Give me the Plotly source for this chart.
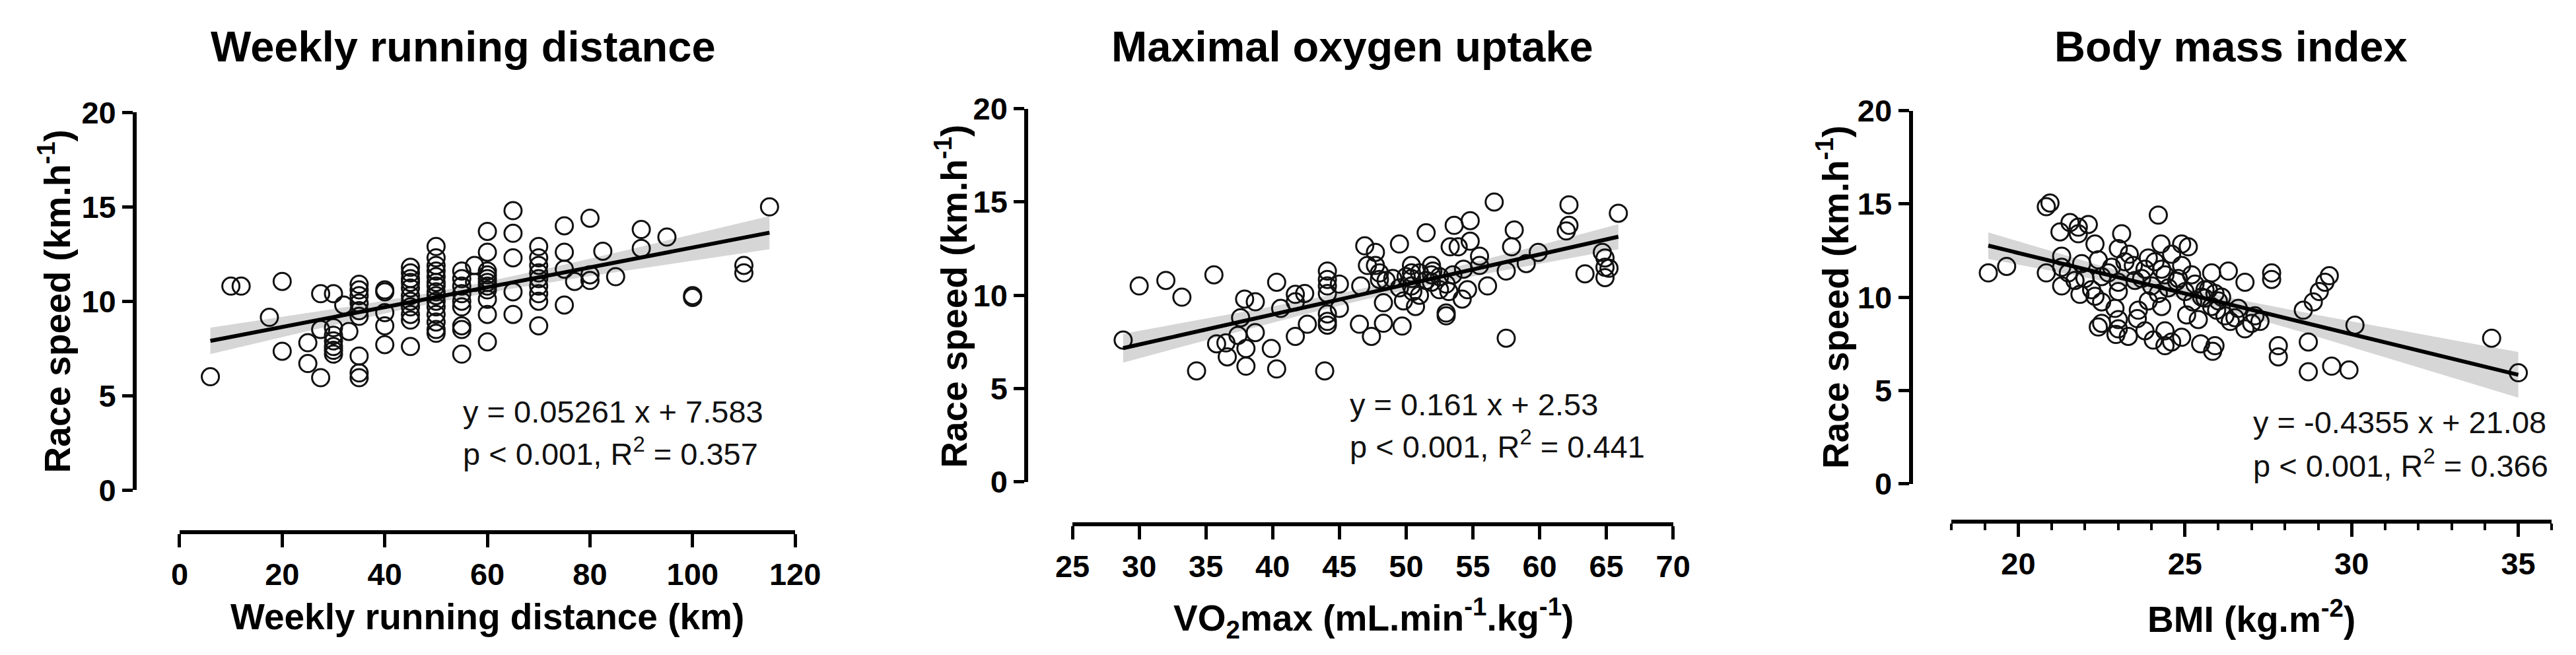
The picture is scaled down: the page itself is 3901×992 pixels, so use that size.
import numpy as np
import plotly.graph_objects as go

# ---- values ----
# panel 1: weekly running distance (km) vs race speed (km/h)
weekly_km = [
    6, 10, 12, 17.5, 20, 20,
    25, 25, 27.5, 27.5, 27.5,
    30, 30, 30, 30, 30, 30, 30,
    32, 33,
    35, 35, 35, 35, 35, 35, 35, 35, 35,
    40, 40, 40, 40, 40,
    45, 45, 45, 45, 45, 45, 45, 45, 45, 45, 45,
    50, 50, 50, 50, 50, 50, 50, 50, 50, 50, 50, 50, 50, 50, 50,
    55, 55, 55, 55, 55, 55, 55, 55, 55,
    57.5, 57.5,
    60, 60, 60, 60, 60, 60, 60, 60, 60, 60, 60,
    65, 65, 65, 65, 65,
    70, 70, 70, 70, 70, 70, 70, 70, 70,
    75, 75, 75, 75, 77,
    80, 80, 80, 82.5, 85,
    90, 90, 95, 100, 100, 110, 110, 115,
]
speed_weekly = [
    6.0, 10.8, 10.8, 9.15, 11.05, 7.35,
    7.8, 6.7, 5.95, 10.4, 8.5,
    10.4, 8.6, 8.2, 7.9, 7.6, 7.4, 7.2,
    9.8, 8.4,
    10.9, 10.6, 10.3, 9.9, 9.5, 9.2, 7.1, 6.2, 5.95,
    10.6, 10.5, 9.4, 8.7, 7.7,
    11.8, 11.5, 11.2, 11.0, 10.7, 10.3, 10.0, 9.7, 9.3, 9.0, 7.6,
    12.9, 12.3, 11.9, 11.6, 11.3, 11.0, 10.8, 10.5, 10.3, 10.0, 9.7, 9.3, 8.9, 8.5, 8.3,
    11.6, 11.2, 10.8, 10.4, 10.0, 9.7, 8.7, 8.5, 7.2,
    11.9, 11.0,
    13.7, 12.6, 11.6, 11.4, 11.2, 11.0, 10.8, 10.6, 10.1, 9.3, 7.85,
    14.8, 13.6, 12.3, 10.5, 9.3,
    12.9, 12.3, 11.9, 11.5, 11.2, 10.8, 10.4, 10.0, 8.7,
    14.0, 12.6, 11.7, 9.8, 11.05,
    14.4, 11.4, 11.1, 12.65, 11.3,
    13.8, 12.8, 13.4, 10.3, 10.2, 11.9, 11.5, 15.0,
]

# panel 2: VO2max (mL/min/kg) vs race speed
vo2max = [
    28.8, 30, 32, 33.2, 34.3, 35.6, 35.8, 36.5, 36.6, 37.4,
    37.6, 37.9, 38, 38, 38.7, 38.7, 39.9, 40.3, 40.3, 40.6,
    41.7, 41.7, 41.7, 42.4, 42.6, 43.9, 44.1, 44.1, 44.1, 44.1,
    44.1, 44.1, 44.1, 45, 45, 46.5, 46.6, 46.9, 47.1, 47.4,
    47.7, 47.7, 48, 48, 48.3, 48.3, 48.5, 49, 49.5, 49.5,
    49.7, 49.8, 50, 50.4, 50.4, 50.4, 50.4, 50.5, 50.7, 51,
    51, 51.5, 51.5, 51.9, 51.9, 51.9, 52, 52.5, 52.5, 53,
    53, 53, 53.2, 53.3, 53.5, 53.6, 53.9, 54.3, 54.6, 54.2,
    54.8, 54.8, 55.5, 55.5, 56.1, 56.6, 57.5, 57.5, 58.1, 57.9,
    59, 59.9, 62.2, 62.2, 62, 63.4, 64.7, 64.9, 64.9, 64.9,
    65.2, 65.9,
]
speed_vo2 = [
    7.6, 10.5, 10.8, 9.9, 5.95, 11.1, 7.4, 7.45, 6.7, 7.85,
    8.8, 9.8, 7.15, 6.2, 9.65, 8.0, 7.15, 10.7, 6.05, 9.3,
    10.05, 9.65, 7.8, 10.1, 8.45, 5.95, 11.3, 10.85, 10.5, 10.1,
    9.0, 8.6, 8.4, 10.6, 9.3, 8.45, 10.5, 12.65, 11.6, 7.8,
    12.3, 11.6, 11.2, 10.85, 9.6, 8.5, 10.8, 10.9, 12.75, 10.4,
    8.35, 9.7, 11.0, 11.6, 11.2, 10.9, 10.5, 10.2, 9.4, 11.2,
    10.0, 13.35, 10.8, 11.6, 11.1, 10.7, 11.3, 10.3, 11.0, 9.05,
    8.9, 10.6, 10.2, 12.6, 11.1, 13.75, 12.6, 11.4, 10.3, 9.8,
    14.0, 12.9, 12.1, 11.6, 10.5, 15.0, 11.3, 7.7, 13.5, 12.6,
    11.7, 12.3, 14.85, 13.75, 13.45, 11.15, 12.3, 12.0, 11.5, 10.95,
    11.45, 14.4,
]

# panel 3: BMI (kg/m2) vs race speed
bmi = [
    19.1, 19.65, 20.84, 20.95, 20.84, 21.25, 21.3, 21.3, 21.3, 21.55,
    21.8, 21.8, 21.85, 22.1, 22.3, 22.3, 22.5, 22.5, 22.9, 23,
    23, 23, 23, 23.1, 23.33, 23.45, 23.57, 23.8, 23.8, 24.05,
    24.2, 24.2, 24.28, 24.4, 24.6, 24.75, 24.9, 24.9, 24.9, 25.05,
    25.1, 25.23, 25.47, 25.6, 25.7, 25.8, 25.9, 25.95, 26.3, 26.36,
    26.8, 27.25, 27.6, 27.6, 27.8, 27.8, 28.55, 28.7, 28.7, 28.85,
    29.03, 29.2, 29.33, 29.4, 29.92, 30.1, 34.2, 35.0,
    21.5, 22, 22.5, 23, 23.5, 24, 24.5, 25, 25.5, 26,
    22.8, 23.7, 24.3, 25.2, 25.8, 26.2, 26.5, 27, 26.8, 21.9,
    22.4, 22.7, 23.2, 23.9, 24.1, 24.6, 24.8, 25.3, 25.6, 25.9,
    26.1, 25.4, 24.3, 23.6, 23.9, 22.2, 21.7, 26.6, 27.1, 24.4,
    23.3, 24.4, 25.83, 22.4, 22.93,
]
speed_bmi = [
    11.3, 11.65, 14.85, 15.05, 11.3, 13.5, 11.6, 10.6, 12.2, 14.0,
    13.75, 13.4, 10.15, 13.9, 12.85, 10.05, 9.75, 8.6, 9.4, 8.8,
    8.3, 12.6, 10.3, 13.4, 12.3, 11.7, 8.85, 11.5, 8.2, 7.7,
    14.4, 10.2, 12.85, 11.2, 7.6, 10.85, 7.85, 12.85, 11.7, 9.05,
    12.7, 9.75, 7.5, 9.95, 10.4, 11.3, 7.4, 9.3, 11.4, 8.7,
    10.8, 8.7, 11.3, 10.95, 7.4, 6.8, 9.3, 7.6, 6.0, 9.75,
    10.3, 10.8, 11.15, 6.3, 6.1, 8.5, 7.8, 5.95,
    11.3, 11.0, 11.1, 10.8, 10.9, 10.6, 10.5, 10.3, 10.0, 9.8,
    11.6, 11.0, 11.5, 11.2, 9.5, 9.0, 8.9, 8.6, 8.3, 11.8,
    12.0, 11.3, 11.9, 12.1, 11.9, 12.3, 11.0, 10.7, 10.4, 10.2,
    10.0, 8.8, 9.5, 9.3, 9.8, 10.4, 10.9, 9.4, 9.0, 8.2,
    7.9, 7.4, 7.1, 8.4, 8.0,
]

titles = ["Weekly running distance", "Maximal oxygen uptake", "Body mass index"]
x_titles = ["Weekly running distance (km)",
            "VO<sub>2</sub>max (mL.min<sup>-1</sup>.kg<sup>-1</sup>)",
            "BMI (kg.m<sup>-2</sup>)"]
y_title = "Race speed (km.h<sup>-1</sup>)"
slopes = [0.05261, 0.161, -0.4355]
intercepts = [7.583, 2.53, 21.08]
eq_text = ["y = 0.05261 x + 7.583", "y = 0.161 x + 2.53", "y = -0.4355 x + 21.08"]
stat_text = ["p < 0.001, R<sup>2</sup> = 0.357",
             "p < 0.001, R<sup>2</sup> = 0.441",
             "p < 0.001, R<sup>2</sup> = 0.366"]
x_ranges = [[0, 120], [25, 70], [18, 36]]
x_ticks = [[0, 20, 40, 60, 80, 100, 120],
           [25, 30, 35, 40, 45, 50, 55, 60, 65, 70],
           [20, 25, 30, 35]]
y_ticks = [0, 5, 10, 15, 20]

W, H = 3901, 992
FONT = "Liberation Sans, Arial, sans-serif"


def px(v):
    return v / W


def py(v):
    return 1 - v / H


# pixel geometry of the three panels (left/right of x axis, y of x axis,
# x of y axis, top/bottom of y axis)
geom = [
    dict(x0=242, x1=1190, xline=815, yline=173, ytop=143, ybot=747),
    dict(x0=1617, x1=2542, xline=802, yline=1546, ytop=137, ybot=734),
    dict(x0=2971, x1=3895, xline=798, yline=2908, ytop=140, ybot=737),
]
title_pos = [(679, 38), (2048, 38), (3401, 38)]
xtitle_pos = [(716, 950), (2081, 952), (3433, 950)]
ytitle_pos = [(50, 445), (1430, 437), (2788, 439)]
stat_pos = [(676, 622, 686), (2042, 610, 674), (3433, 639, 705)]

data = [(weekly_km, speed_weekly), (vo2max, speed_vo2), (bmi, speed_bmi)]

fig = go.Figure()
annotations = []

for i in range(3):
    xs = np.array(data[i][0], dtype=float)
    ys = np.array(data[i][1], dtype=float)
    a, b = slopes[i], intercepts[i]
    xa = 'x' if i == 0 else f'x{i + 1}'
    ya = 'y' if i == 0 else f'y{i + 1}'

    # 95% confidence band of the fitted line
    n = len(xs)
    resid = ys - (a * xs + b)
    s = np.sqrt(np.sum(resid ** 2) / (n - 2))
    sxx = np.sum((xs - xs.mean()) ** 2)
    xl = np.linspace(xs.min(), xs.max(), 60)
    half = 1.976 * s * np.sqrt(1 / n + (xl - xs.mean()) ** 2 / sxx)
    yl = a * xl + b
    fig.add_trace(go.Scatter(
        x=np.concatenate([xl, xl[::-1]]), y=np.concatenate([yl + half, (yl - half)[::-1]]),
        fill='toself', fillcolor='#d6d6d6', line=dict(width=0), mode='lines',
        xaxis=xa, yaxis=ya, hoverinfo='skip'))
    fig.add_trace(go.Scatter(
        x=xs, y=ys, mode='markers', cliponaxis=False,
        marker=dict(symbol='circle', size=26, color='rgba(0,0,0,0)',
                    line=dict(color='#111', width=3)),
        xaxis=xa, yaxis=ya))
    fig.add_trace(go.Scatter(
        x=xl, y=yl, mode='lines', line=dict(color='black', width=6),
        xaxis=xa, yaxis=ya, hoverinfo='skip'))

    g = geom[i]
    xkey = 'xaxis' if i == 0 else f'xaxis{i + 1}'
    ykey = 'yaxis' if i == 0 else f'yaxis{i + 1}'
    xaxis = dict(
        domain=[px(g['x0']), px(g['x1'])], range=x_ranges[i], anchor='free',
        position=py(g['xline']), showline=True, linewidth=6, linecolor='black',
        ticks='outside', ticklen=20, tickwidth=5, tickcolor='black',
        tickvals=x_ticks[i], showgrid=False, zeroline=False, ticklabelstandoff=0,
        tickfont=dict(family=FONT, size=47, color='black', weight='bold'))
    if i == 2:
        xaxis['minor'] = dict(ticks='outside', ticklen=10, tickwidth=4,
                              tickcolor='black', dtick=1, tick0=18, showgrid=False)
    fig.update_layout({xkey: xaxis})
    fig.update_layout({ykey: dict(
        domain=[py(g['ybot']), py(g['ytop'])], range=[0, 20], anchor='free',
        position=px(g['yline']), showline=True, linewidth=6, linecolor='black',
        ticks='outside', ticklen=16, tickwidth=5, tickcolor='black',
        tickvals=y_ticks, showgrid=False, zeroline=False,
        tickfont=dict(family=FONT, size=47, color='black', weight='bold'))})

    tx, ty = title_pos[i]
    annotations.append(dict(text=titles[i], x=px(tx), y=py(ty), xref='paper', yref='paper',
                            showarrow=False, xanchor='center', yanchor='middle',
                            font=dict(family=FONT, size=65, color='black', weight='bold')))
    tx, ty = xtitle_pos[i]
    annotations.append(dict(text=x_titles[i], x=px(tx), y=py(ty), xref='paper', yref='paper',
                            showarrow=False, xanchor='center', yanchor='middle',
                            font=dict(family=FONT, size=55, color='black', weight='bold')))
    tx, ty = ytitle_pos[i]
    annotations.append(dict(text=y_title, x=px(tx), y=py(ty), xref='paper', yref='paper',
                            showarrow=False, xanchor='center', yanchor='middle', textangle=-90,
                            font=dict(family=FONT, size=55, color='black', weight='bold')))
    sx, sy1, sy2 = stat_pos[i]
    annotations.append(dict(text=eq_text[i], x=px(sx), y=py(sy1), xref='paper', yref='paper',
                            showarrow=False, xanchor='left', yanchor='middle',
                            font=dict(family=FONT, size=47, color='#111')))
    annotations.append(dict(text=stat_text[i], x=px(sx), y=py(sy2), xref='paper', yref='paper',
                            showarrow=False, xanchor='left', yanchor='middle',
                            font=dict(family=FONT, size=47, color='#111')))

fig.update_layout(
    width=W, height=H, margin=dict(l=0, r=0, t=0, b=0),
    paper_bgcolor='white', plot_bgcolor='white', showlegend=False,
    annotations=annotations,
)

fig.write_html("out.html")
